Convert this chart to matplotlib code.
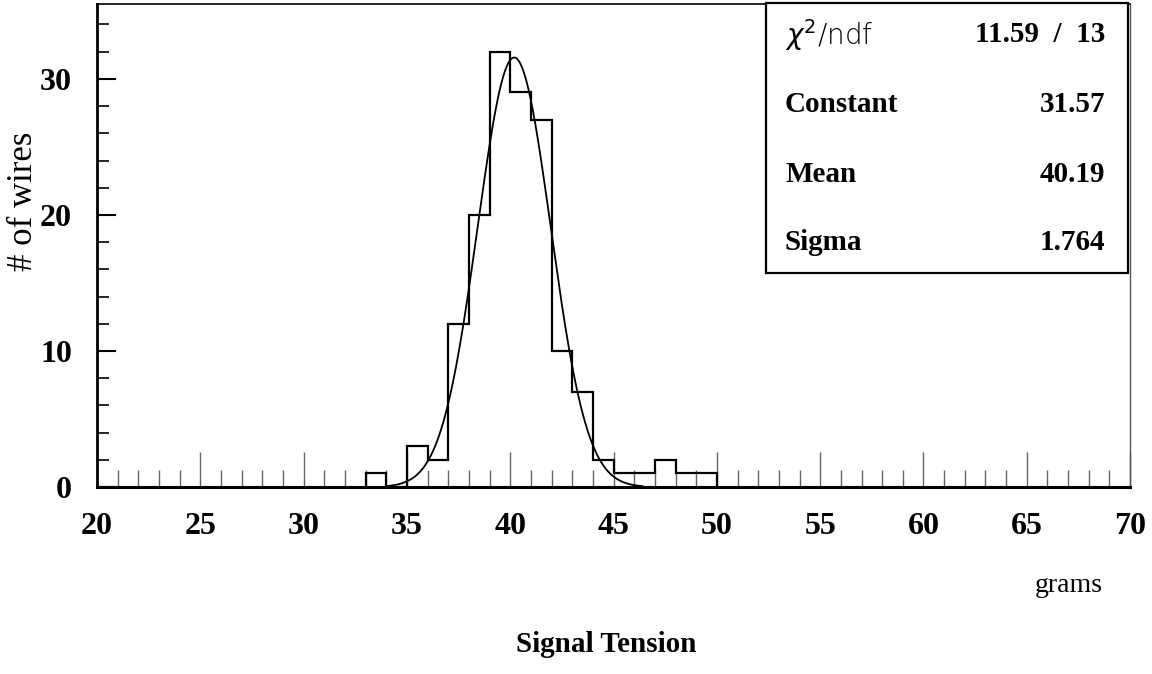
import numpy as np
import matplotlib
matplotlib.use("Agg")
import matplotlib.pyplot as plt
from matplotlib.patches import Rectangle

# histogram of signal wire tension, 1 gram bins
bin_edges = np.arange(33, 51, 1)
counts = [1, 0, 3, 2, 12, 20, 32, 29, 27, 10, 7, 2, 1, 1, 2, 1, 1]

# gaussian fit result
fit_const = 31.57
fit_mean = 40.19
fit_sigma = 1.764
fit_range = (34.0, 46.4)
chi2, ndf = 11.59, 13

stat_names = ["Constant", "Mean", "Sigma"]
stat_values = ["31.57", "40.19", "1.764"]

serif = "Liberation Serif"

fig = plt.figure(figsize=(11.52, 6.74), dpi=100)
ax = fig.add_axes([0.0842, 0.2774, 0.8968, 0.7166])

# histogram outline
xs = np.repeat(bin_edges, 2)[1:-1]
ys = np.repeat(counts, 2)
xs = np.concatenate(([bin_edges[0]], xs, [bin_edges[-1]]))
ys = np.concatenate(([0], ys, [0]))
ax.plot(xs, ys, color="black", lw=1.6, solid_joinstyle="miter", zorder=3)

# fit curve
xf = np.linspace(fit_range[0], fit_range[1], 300)
yf = fit_const * np.exp(-0.5 * ((xf - fit_mean) / fit_sigma) ** 2)
ax.plot(xf, yf, color="black", lw=1.3, zorder=4)

ax.set_xlim(20, 70)
ax.set_ylim(0, 35.5)

ax.set_xticks(np.arange(20, 71, 5))
ax.set_xticks(np.arange(20, 71, 1), minor=True)
ax.set_yticks([0, 10, 20, 30])
ax.set_yticks(np.arange(0, 36, 2), minor=True)

ax.tick_params(axis="x", which="major", direction="in", length=25, width=1.0,
               color="#666666", pad=18)
ax.tick_params(axis="x", which="minor", direction="in", length=12, width=1.0,
               color="#666666")
ax.tick_params(axis="y", which="major", direction="in", length=14, width=1.5,
               color="black", pad=18)
ax.tick_params(axis="y", which="minor", direction="in", length=8.5, width=1.2,
               color="black")

for lab in ax.get_xticklabels() + ax.get_yticklabels():
    lab.set_fontfamily(serif)
    lab.set_fontweight("bold")
    lab.set_fontsize(23)

ax.spines["left"].set_linewidth(2.0)
ax.spines["bottom"].set_linewidth(2.2)
ax.spines["top"].set_linewidth(1.2)
ax.spines["right"].set_linewidth(1.0)
ax.spines["right"].set_color("#555555")

# axis titles
fig.text(24 / 1152, 1 - 201 / 674, "# of wires", rotation=90, ha="center",
         va="center", family=serif, fontsize=25)
fig.text(1103 / 1152, 1 - 586 / 674, "grams", ha="right", va="center",
         family=serif, fontsize=20)
fig.text(606 / 1152, 1 - 644 / 674, "Signal Tension", ha="center", va="center",
         family=serif, fontweight="bold", fontsize=21)

# stats box
box = Rectangle((766 / 1152, 1 - 273 / 674), (1128 - 766) / 1152,
                (273 - 3) / 674, transform=fig.transFigure, facecolor="white",
                edgecolor="black", lw=1.6, zorder=10)
fig.patches.append(box)

row_y = [1 - 35 / 674, 1 - 105 / 674, 1 - 175 / 674, 1 - 243 / 674]
xl, xr = 785 / 1152, 1105 / 1152
fig.text(xl, row_y[0], r"$\chi^{2}$/ndf", ha="left", va="center",
         family="DejaVu Sans", fontweight="light", fontsize=20, zorder=11)
fig.text(xr, row_y[0], "%.2f  /  %d" % (chi2, ndf), ha="right", va="center",
         family=serif, fontweight="bold", fontsize=21, zorder=11)
for i in range(len(stat_names)):
    fig.text(xl, row_y[i + 1], stat_names[i], ha="left", va="center",
             family=serif, fontweight="bold", fontsize=21, zorder=11)
    fig.text(xr, row_y[i + 1], stat_values[i], ha="right", va="center",
             family=serif, fontweight="bold", fontsize=21, zorder=11)

fig.savefig("out.png", dpi=100)
